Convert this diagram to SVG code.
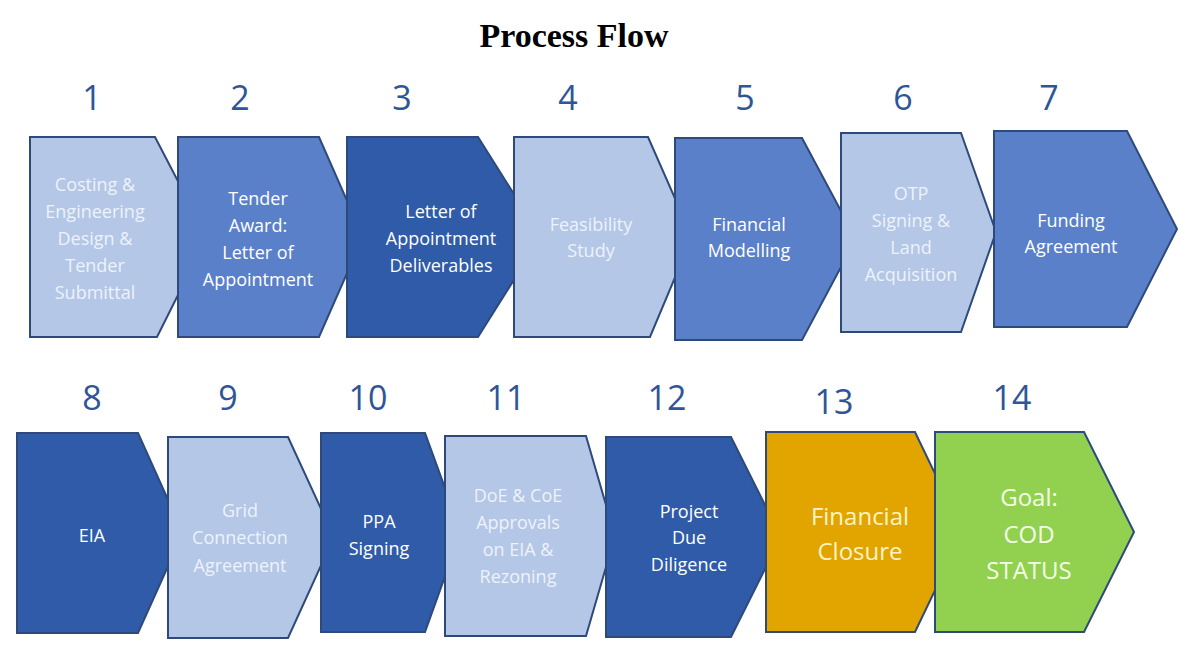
<svg xmlns="http://www.w3.org/2000/svg" width="1201" height="655" viewBox="0 0 1201 655">
<style>
.s{stroke:#2E4A7A;stroke-width:2;stroke-linejoin:miter}
.l{fill:#B4C7E7}.m{fill:#5A80CA}.d{fill:#2F5BA8}
.num{font-family:"Open Sans",sans-serif;font-size:34px;fill:#2F5597;text-anchor:middle}
.t{font-family:"Open Sans",sans-serif;font-size:18px;text-anchor:middle;dominant-baseline:central}
.tl{fill:#EEF2FA}.tw{fill:#FFFFFF}
.big{font-size:24px}
</style>
<rect width="1201" height="655" fill="#FFFFFF"/>
<text x="574" y="47" font-family="Liberation Serif,serif" font-weight="bold" font-size="34" text-anchor="middle">Process Flow</text>
<g id="n1"><polygon class="s l" points="30,137 155,137 207,237 157,337 30,337"/><text class="num" x="92" y="110">1</text>
<text class="t tl" x="95"><tspan x="95" y="184">Costing &amp;</tspan><tspan x="95" y="211">Engineering</tspan><tspan x="95" y="238">Design &amp;</tspan><tspan x="95" y="265">Tender</tspan><tspan x="95" y="292">Submittal</tspan></text></g>
<g id="n2"><polygon class="s m" points="178,137 319,137 363,237 319,337 178,337"/><text class="num" x="240" y="110">2</text>
<text class="t tw"><tspan x="258" y="198">Tender</tspan><tspan x="258" y="225">Award:</tspan><tspan x="258" y="252">Letter of</tspan><tspan x="258" y="279">Appointment</tspan></text></g>
<g id="n3"><polygon class="s d" points="347,137 478,137 541,237 478,337 347,337"/><text class="num" x="402" y="110">3</text>
<text class="t tw"><tspan x="441" y="211">Letter of</tspan><tspan x="441" y="238">Appointment</tspan><tspan x="441" y="265">Deliverables</tspan></text></g>
<g id="n4"><polygon class="s l" points="514,137 648,137 692,237 650,337 514,337"/><text class="num" x="568" y="110">4</text>
<text class="t tl"><tspan x="591" y="224">Feasibility</tspan><tspan x="591" y="250">Study</tspan></text></g>
<g id="n5"><polygon class="s m" points="675,138 802,138 856,239 802,340 675,340"/><text class="num" x="745" y="110">5</text>
<text class="t tw"><tspan x="749" y="224">Financial</tspan><tspan x="749" y="250">Modelling</tspan></text></g>
<g id="n6"><polygon class="s l" points="841,133 961,133 996,232 961,332 841,332"/><text class="num" x="903" y="110">6</text>
<text class="t tl"><tspan x="911" y="193">OTP</tspan><tspan x="911" y="220">Signing &amp;</tspan><tspan x="911" y="247">Land</tspan><tspan x="911" y="274">Acquisition</tspan></text></g>
<g id="n7"><polygon class="s m" points="994,131 1127,131 1177,229 1127,327 994,327"/><text class="num" x="1049" y="110">7</text>
<text class="t tw"><tspan x="1071" y="220">Funding</tspan><tspan x="1071" y="246">Agreement</tspan></text></g>
<g id="n8"><polygon class="s d" points="17,433 138,433 183,533 138,633 17,633"/><text class="num" x="92" y="410">8</text>
<text class="t tw" x="92" y="535">EIA</text></g>
<g id="n9"><polygon class="s l" points="168,437 288,437 334,537 288,638 168,638"/><text class="num" x="228" y="410">9</text>
<text class="t tl"><tspan x="240" y="510">Grid</tspan><tspan x="240" y="537">Connection</tspan><tspan x="240" y="565">Agreement</tspan></text></g>
<g id="n10"><polygon class="s d" points="321,433 425,433 461,532 425,632 321,632"/><text class="num" x="368" y="410">10</text>
<text class="t tw"><tspan x="379" y="521">PPA</tspan><tspan x="379" y="548">Signing</tspan></text></g>
<g id="n11"><polygon class="s l" points="445,436 586,436 615,536 586,636 445,636"/><text class="num" x="506" y="410">11</text>
<text class="t tl"><tspan x="518" y="495">DoE &amp; CoE</tspan><tspan x="518" y="522">Approvals</tspan><tspan x="518" y="549">on EIA &amp;</tspan><tspan x="518" y="576">Rezoning</tspan></text></g>
<g id="n12"><polygon class="s d" points="606,437 731,437 781,537 731,637 606,637"/><text class="num" x="667" y="410">12</text>
<text class="t tw"><tspan x="689" y="511">Project</tspan><tspan x="689" y="537">Due</tspan><tspan x="689" y="564">Diligence</tspan></text></g>
<g id="n13"><polygon class="s" fill="#E2A500" points="766,432 915,432 963,532 915,632 766,632"/><text class="num" x="834" y="414">13</text>
<text class="t big" fill="#FFF3C4"><tspan x="860" y="515">Financial</tspan><tspan x="860" y="550">Closure</tspan></text></g>
<g id="n14"><polygon class="s" fill="#92D050" points="935,432 1084,432 1134,532 1084,632 935,632"/><text class="num" x="1012" y="410">14</text>
<text class="t big" fill="#F2FFE6"><tspan x="1029" y="496">Goal:</tspan><tspan x="1029" y="533">COD</tspan><tspan x="1029" y="569">STATUS</tspan></text></g>
<g id="connectors"/>
</svg>
